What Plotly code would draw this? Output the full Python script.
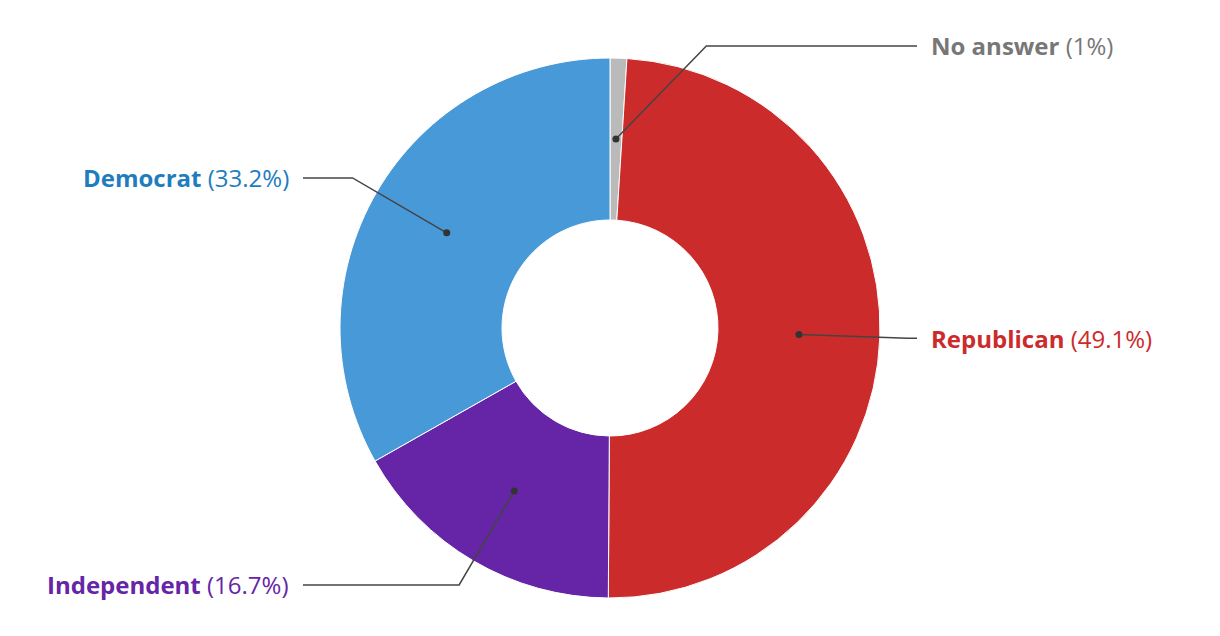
import math
import plotly.graph_objects as go

# ---- data ----
categories = ["No answer", "Republican", "Independent", "Democrat"]
values = [1.0, 49.1, 16.7, 33.2]
slice_colors = ["#bababa", "#cc2b2b", "#6525a6", "#4899d8"]
label_colors = ["#777777", "#cc2b2b", "#6525a6", "#1f7dbd"]

# ---- geometry (pixels) ----
W, H = 1220, 636
CX, CY = 610, 328
R_OUT = 270
HOLE = 0.4
R_DOT = (R_OUT + R_OUT * HOLE) / 2
R_ELBOW = 298
X_LINE = 307
TOP_MIN = 46
FONT = "'Open Sans', Lato, sans-serif"


def px(x):
    return x / W


def py(y):
    return 1 - y / H


fig = go.Figure(go.Pie(
    labels=categories, values=values, sort=False, direction="clockwise",
    rotation=0, hole=HOLE, textinfo="none", showlegend=False,
    marker=dict(colors=slice_colors, line=dict(color="white", width=1)),
    domain=dict(x=[px(CX - R_OUT), px(CX + R_OUT)], y=[py(CY + R_OUT), py(CY - R_OUT)]),
))

total = sum(values)
cum = 0.0
shapes = []
annotations = []
for cat, v, lc in zip(categories, values, label_colors):
    mid = (cum + v / 2) / total * 2 * math.pi
    cum += v
    s, c = math.sin(mid), math.cos(mid)
    dx, dy = CX + R_DOT * s, CY - R_DOT * c
    ey = CY - R_ELBOW * c
    side = 1 if s >= 0 else -1
    if ey < TOP_MIN:
        ey = TOP_MIN
    ex = CX + side * math.sqrt(max(R_ELBOW ** 2 - (ey - CY) ** 2, 0))
    lx = CX + side * X_LINE
    shapes.append(dict(
        type="path", xref="paper", yref="paper", layer="above",
        path=f"M {px(dx)} {py(dy)} L {px(ex)} {py(ey)} L {px(lx)} {py(ey)}",
        line=dict(color="#444444", width=1.5),
    ))
    r = 3.5
    shapes.append(dict(
        type="circle", xref="paper", yref="paper", layer="above",
        x0=px(dx - r), x1=px(dx + r), y0=py(dy + r), y1=py(dy - r),
        fillcolor="#333333", line=dict(width=0),
    ))
    pct = f"{v:g}%"
    annotations.append(dict(
        xref="paper", yref="paper", x=px(lx + side * 12), y=py(ey),
        xanchor="left" if side > 0 else "right", yanchor="middle",
        text=f"<b>{cat}</b> ({pct})", showarrow=False,
        font=dict(family=FONT, size=24, color=lc),
    ))

fig.update_layout(
    width=W, height=H, margin=dict(l=0, r=0, t=0, b=0),
    paper_bgcolor="white", plot_bgcolor="white",
    shapes=shapes, annotations=annotations,
)
fig.write_html("out.html", config={"displayModeBar": False},
               post_script="document.body.style.margin='0';")
